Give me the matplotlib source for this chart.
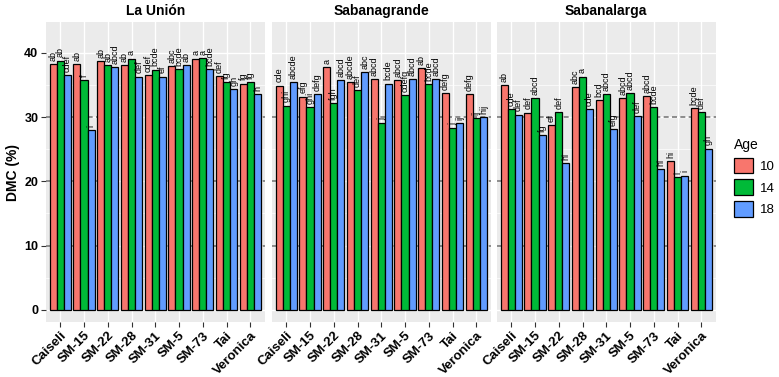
import matplotlib.pyplot as plt
from matplotlib.patches import Patch
import numpy as np

# categories
genotypes = ['Caiseli', 'SM-15', 'SM-22', 'SM-28', 'SM-31', 'SM-5', 'SM-73', 'Tai', 'Veronica']
ages = ['10', '14', '18']
sites = ['La Unión', 'Sabanagrande', 'Sabanalarga']

# DMC (%) per site and age
union_10 = [38.2, 38.2, 38.7, 38.1, 36.5, 37.9, 39.1, 36.4, 35.2]
union_14 = [38.8, 35.8, 38.1, 39.1, 37.4, 37.5, 39.2, 35.4, 35.5]
union_18 = [36.5, 28.0, 37.8, 36.3, 36.3, 38.1, 37.5, 34.4, 33.6]

grande_10 = [34.9, 33.2, 37.8, 35.5, 35.9, 35.8, 37.6, 33.7, 33.6]
grande_14 = [31.8, 31.6, 32.2, 34.2, 29.0, 33.4, 35.1, 28.3, 29.8]
grande_18 = [35.4, 33.6, 35.7, 37.0, 35.2, 35.9, 35.9, 29.1, 30.0]

larga_10 = [35.0, 30.7, 28.8, 34.7, 32.7, 32.9, 33.3, 23.1, 31.4]
larga_14 = [31.2, 32.9, 30.8, 36.3, 33.6, 33.7, 31.6, 20.6, 30.8]
larga_18 = [30.4, 27.2, 22.8, 31.2, 28.1, 30.1, 21.9, 20.9, 25.1]

# significance letters
union_let_10 = ['ab', 'ab', 'ab', 'ab', 'cdef', 'abc', 'a', 'def', 'fg']
union_let_14 = ['ab', 'f', 'ab', 'a', 'bcde', 'bcde', 'a', 'fg', 'fg']
union_let_18 = ['cdef', 'i', 'abcd', 'def', 'ef', 'ab', 'bcde', 'gh', 'h']

grande_let_10 = ['cde', 'efg', 'a', 'abcde', 'abcd', 'abcd', 'ab', 'defg', 'defg']
grande_let_14 = ['ghi', 'ghi', 'fgh', 'def', 'j', 'cdefg', 'bcde', 'j', 'ij']
grande_let_18 = ['abcde', 'defg', 'abcd', 'abc', 'bcde', 'abcd', 'abcd', 'ij', 'hij']

larga_let_10 = ['ab', 'def', 'ef', 'abc', 'bcd', 'abcd', 'abcd', 'hi', 'bcde']
larga_let_14 = ['cde', 'abcd', 'def', 'a', 'abcd', 'abcd', 'bcde', 'i', 'def']
larga_let_18 = ['def', 'fg', 'hi', 'cde', 'efg', 'def', 'hi', 'i', 'gh']

values = [[union_10, union_14, union_18],
          [grande_10, grande_14, grande_18],
          [larga_10, larga_14, larga_18]]
letters = [[union_let_10, union_let_14, union_let_18],
           [grande_let_10, grande_let_14, grande_let_18],
           [larga_let_10, larga_let_14, larga_let_18]]

colors = ['#F8766D', '#00BA38', '#619CFF']

plt.rcParams['font.family'] = ['Liberation Sans', 'DejaVu Sans']

W, H = 779, 377
fig = plt.figure(figsize=(W / 100, H / 100), dpi=100)

lefts = [46, 272, 497]
x = np.arange(1, len(genotypes) + 1)

for i, site in enumerate(sites):
    ax = fig.add_axes([lefts[i] / W, 55 / H, 218.5 / W, 300 / H])
    ax.set_facecolor('#EBEBEB')

    for j in range(3):
        pos = x + (j - 1) * 0.3
        ax.bar(pos, values[i][j], width=0.3, color=colors[j],
               edgecolor='black', linewidth=0.9, zorder=3)
        for p, v, t in zip(pos, values[i][j], letters[i][j]):
            ax.text(p, v + 0.5, t, rotation=90, ha='center', va='bottom',
                    fontsize=6.5, zorder=4)

    # dashed reference lines
    for yv in (10, 20, 30):
        ax.axhline(yv, color='#7A7A7A', ls=(0, (3, 2)), lw=1.2, zorder=2)

    ax.set_xlim(0.4, 9.6)
    ax.set_ylim(-1.9, 44.8)
    ax.set_yticks([0, 10, 20, 30, 40])
    ax.set_yticks([5, 15, 25, 35], minor=True)
    ax.set_xticks(x)
    ax.set_axisbelow(True)
    ax.grid(which='major', color='white', lw=1.0)
    ax.grid(which='minor', axis='y', color='white', lw=0.5)
    for s in ax.spines.values():
        s.set_visible(False)

    ax.set_xticklabels(genotypes, rotation=45, ha='right', va='top',
                       rotation_mode='anchor', fontweight='bold', fontsize=9.5)
    ax.tick_params(axis='x', length=3.5, width=0.8, color='#333333', pad=2)
    ax.tick_params(axis='y', which='minor', length=0)
    if i == 0:
        ax.tick_params(axis='y', length=3.5, width=0.8, color='#333333',
                       labelsize=9, pad=2)
        for lab in ax.get_yticklabels():
            lab.set_fontweight('bold')
    else:
        ax.tick_params(axis='y', length=0, labelleft=False)

    ax.set_title(site, fontweight='bold', fontsize=10, pad=5)

fig.text(13 / W, (55 + 150) / H, 'DMC (%)', rotation=90, ha='center',
         va='center', fontweight='bold', fontsize=10)

handles = [Patch(facecolor=c, edgecolor='black', linewidth=0.9) for c in colors]
fig.legend(handles, ages, title='Age', loc='upper left',
           bbox_to_anchor=(722 / W, 1 - 126 / H), frameon=False,
           handlelength=1.45, handleheight=1.45, labelspacing=0.45,
           handletextpad=0.5, fontsize=9.5, title_fontsize=10,
           alignment='left')

fig.savefig('out.png', dpi=100)
